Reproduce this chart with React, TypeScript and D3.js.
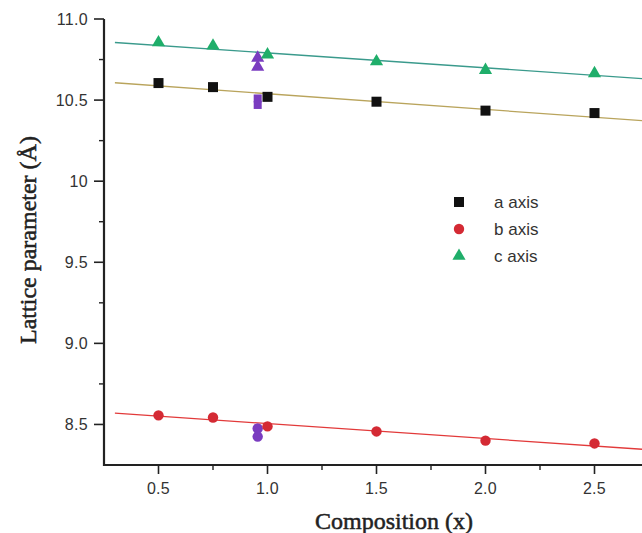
import React from "react";
import * as d3 from "d3";

const compositions = [0.5, 0.75, 1.0, 1.5, 2.0, 2.5];
const aAxis = [10.605, 10.58, 10.52, 10.49, 10.435, 10.42];
const bAxis = [8.556, 8.543, 8.488, 8.457, 8.40, 8.383];
const cAxis = [10.855, 10.835, 10.78, 10.738, 10.685, 10.665];

const extraX = 0.955;
const extraA = [10.51, 10.47];
const extraB = [8.475, 8.425];
const extraC = [10.76, 10.705];

// fitted lines: [x0, y0, x1, y1]
const fitA = [0.3, 10.607, 2.75, 10.37];
const fitB = [0.3, 8.57, 2.75, 8.344];
const fitC = [0.3, 10.855, 2.75, 10.63];

const xMajor = [0.5, 1.0, 1.5, 2.0, 2.5];
const xMajorLabels = ["0.5", "1.0", "1.5", "2.0", "2.5"];
const xMinor = [0.75, 1.25, 1.75, 2.25];
const yMajor = [8.5, 9.0, 9.5, 10.0, 10.5, 11.0];
const yMajorLabels = ["8.5", "9.0", "9.5", "10", "10.5", "11.0"];
const yMinor = [8.75, 9.25, 9.75, 10.25, 10.75];

const legendLabels = ["a axis", "b axis", "c axis"];

const W = 642, H = 533;
const x = d3.scaleLinear().domain([0.25, 2.75]).range([104, 649]);
const y = d3.scaleLinear().domain([8.25, 11.0]).range([465, 19]);

const axisColor = "#222";
const colA = "#111";
const colB = "#d42a34";
const colC = "#1fae6a";
const colP = "#7a3cc0";
const lineA = "#b9a45c";
const lineB = "#e23a3a";
const lineC = "#3a9a8c";

const tri = d3.symbol().type(d3.symbolTriangle).size(75)();

function Square({ cx, cy, c, s = 10 }: { cx: number; cy: number; c: string; s?: number }) {
  return <rect x={cx - s / 2} y={cy - s / 2} width={s} height={s} fill={c} />;
}
function Circle({ cx, cy, c }: { cx: number; cy: number; c: string }) {
  return <circle cx={cx} cy={cy} r={5.2} fill={c} />;
}
function Tri({ cx, cy, c }: { cx: number; cy: number; c: string }) {
  return <path d={tri || ""} transform={`translate(${cx},${cy})`} fill={c} />;
}

export default function App() {
  const fit = (f: number[], c: string) => (
    <line x1={x(f[0])} y1={y(f[1])} x2={x(f[2])} y2={y(f[3])} stroke={c} strokeWidth={1.3} />
  );
  const titleStyle = {
    fontFamily: "Liberation Serif, Times New Roman, serif",
    fontSize: 24,
    fill: "#222",
    stroke: "#222",
    strokeWidth: 0.5,
  } as const;
  return (
    <svg width={W} height={H} style={{ position: "absolute", left: 0, top: 0, background: "#fff" }}>
      <rect x={0} y={0} width={W} height={H} fill="#fff" />
      {fit(fitA, lineA)}
      {fit(fitB, lineB)}
      {fit(fitC, lineC)}

      <line x1={104} y1={y(11.0)} x2={104} y2={y(8.25) + 1} stroke={axisColor} strokeWidth={2.2} />
      <line x1={103} y1={y(8.25)} x2={W} y2={y(8.25)} stroke={axisColor} strokeWidth={2.2} />
      {yMajor.map((v, i) => (
        <g key={"ym" + i}>
          <line x1={94} x2={104} y1={y(v)} y2={y(v)} stroke={axisColor} strokeWidth={1.6} />
          <text x={88} y={y(v) + 5.5} textAnchor="end" fontFamily="Liberation Sans, Arial, sans-serif" fontSize={16} fill="#333" letterSpacing={0.3}>
            {yMajorLabels[i]}
          </text>
        </g>
      ))}
      {yMinor.map((v, i) => (
        <line key={"yn" + i} x1={99} x2={104} y1={y(v)} y2={y(v)} stroke={axisColor} strokeWidth={1.4} />
      ))}
      {xMajor.map((v, i) => (
        <g key={"xm" + i}>
          <line x1={x(v)} x2={x(v)} y1={465} y2={474} stroke={axisColor} strokeWidth={1.6} />
          <text x={x(v)} y={494} textAnchor="middle" fontFamily="Liberation Sans, Arial, sans-serif" fontSize={16} fill="#333" letterSpacing={0.3}>
            {xMajorLabels[i]}
          </text>
        </g>
      ))}
      {xMinor.map((v, i) => (
        <line key={"xn" + i} x1={x(v)} x2={x(v)} y1={465} y2={470} stroke={axisColor} strokeWidth={1.4} />
      ))}

      <text x={394} y={529} textAnchor="middle" {...titleStyle}>
        Composition (x)
      </text>
      <text transform={`translate(36,240) rotate(-90)`} textAnchor="middle" {...titleStyle}>
        Lattice parameter (Å)
      </text>

      {extraC.map((v, i) => <Tri key={"pc" + i} cx={x(extraX)} cy={y(v)} c={colP} />)}
      {extraA.map((v, i) => <Square key={"pa" + i} cx={x(extraX)} cy={y(v)} c={colP} s={8} />)}
      {extraB.map((v, i) => <Circle key={"pb" + i} cx={x(extraX)} cy={y(v)} c={colP} />)}

      {compositions.map((cx, i) => (
        <g key={"d" + i}>
          <Square cx={x(cx)} cy={y(aAxis[i])} c={colA} />
          <Circle cx={x(cx)} cy={y(bAxis[i])} c={colB} />
          <Tri cx={x(cx)} cy={y(cAxis[i])} c={colC} />
        </g>
      ))}

      {legendLabels.map((t, i) => {
        const ly = 202 + i * 27;
        return (
          <g key={"lg" + i}>
            {i === 0 && <Square cx={459} cy={ly} c={colA} />}
            {i === 1 && <Circle cx={459} cy={ly} c={colB} />}
            {i === 2 && <Tri cx={459} cy={ly} c={colC} />}
            <text x={494} y={ly + 6} fontFamily="Liberation Sans, Arial, sans-serif" fontSize={17} fill="#333">
              {t}
            </text>
          </g>
        );
      })}
    </svg>
  );
}
